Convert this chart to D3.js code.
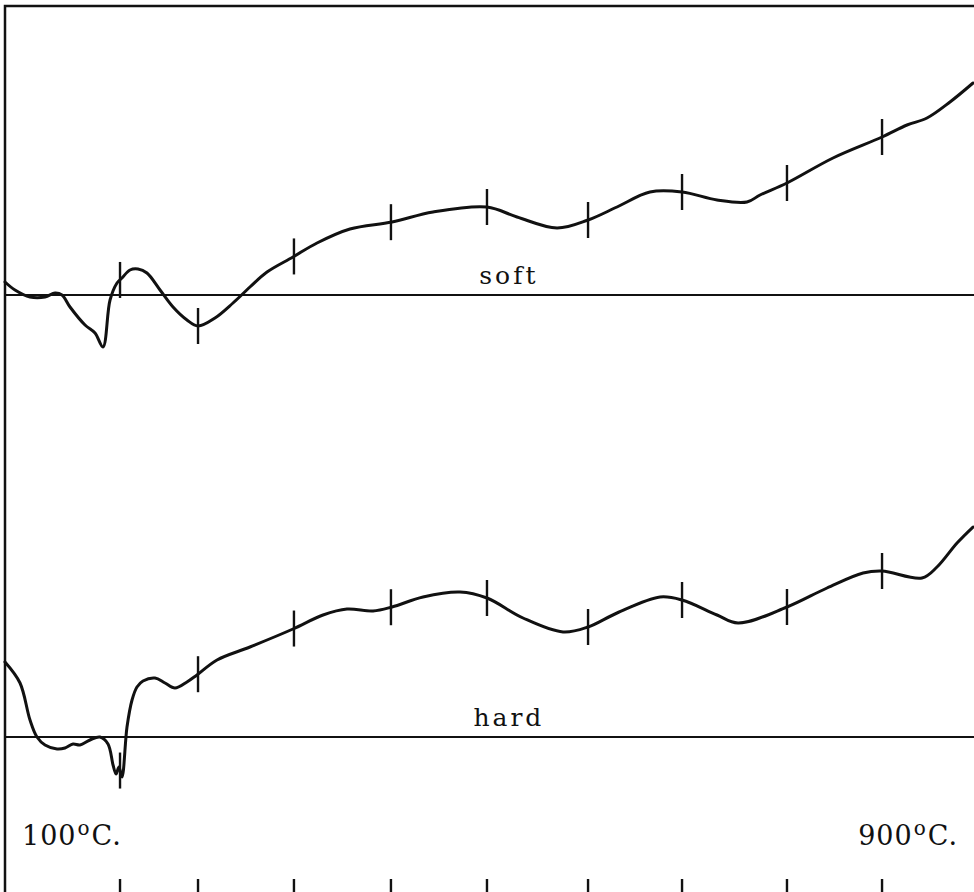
<!DOCTYPE html>
<html lang="en">
<head>
<meta charset="UTF-8">
<title>DTA soft / hard</title>
<script src="https://d3js.org/d3.v7.min.js"></script>
<style>
  body { margin: 0; background: #fff; }
  svg { display: block; }
  .curve { fill: none; stroke: #111; stroke-width: 3; stroke-linejoin: round; stroke-linecap: round; }
  .base { stroke: #111; stroke-width: 2; }
  .mark { stroke: #111; stroke-width: 2.4; }
  .frame { fill: none; stroke: #111; stroke-width: 2.5; }
  text { font-family: "DejaVu Serif", "Liberation Serif", serif; fill: #111; }
</style>
</head>
<body>
<div id="chart"></div>
<script>
// chart position (recorder units, 0..100 across the paper) and deflection (units above each baseline)
var softX = [0, 1.03, 2.58, 4.13, 5.16, 5.88, 6.71, 8.26, 9.29, 10.11, 10.84, 11.56, 12.07, 12.9, 13.73, 14.65, 16.0, 17.34, 18.78, 19.92, 21.67, 23.53, 25.28, 27.04, 29.72, 32.2, 35.6, 39.94, 44.17, 49.74, 52.84, 56.97, 60.17, 63.16, 66.56, 69.87, 73.48, 76.57, 77.92, 80.7, 85.45, 90.51, 93.09, 95.15, 97.52, 99.9];
var softY = [1.3, 0.5, -0.2, -0.2, 0.2, 0.0, -1.2, -3.0, -3.8, -5.2, -0.5, 1.2, 1.7, 2.5, 2.6, 2.2, 0.5, -1.2, -2.5, -3.1, -2.3, -0.8, 0.8, 2.3, 3.8, 5.2, 6.6, 7.3, 8.3, 8.8, 7.8, 6.7, 7.5, 8.8, 10.3, 10.3, 9.5, 9.3, 10.0, 11.2, 13.7, 15.8, 17.0, 17.7, 19.3, 21.2];

var hardX = [0, 1.55, 2.58, 3.3, 4.13, 5.37, 6.19, 7.02, 7.74, 8.77, 9.8, 10.63, 11.15, 11.46, 11.76, 12.07, 12.59, 13.11, 13.62, 14.24, 15.48, 16.51, 17.54, 18.78, 19.81, 21.88, 25.28, 29.72, 32.82, 35.29, 37.98, 39.94, 43.14, 46.96, 49.74, 53.46, 57.59, 60.17, 63.16, 67.6, 69.87, 73.48, 75.65, 80.7, 84.83, 88.55, 90.51, 94.63, 96.18, 98.25, 99.9];
var hardY = [7.5, 5.4, 1.7, 0, -0.8, -1.2, -1.1, -0.7, -0.8, -0.3, 0, -0.7, -2.8, -3.7, -3.0, -4.0, 1.0, 3.7, 5.0, 5.6, 5.9, 5.4, 4.9, 5.5, 6.2, 7.7, 9.0, 10.8, 12.2, 12.8, 12.6, 13.0, 14.0, 14.5, 13.9, 11.9, 10.5, 11.0, 12.4, 14.0, 13.7, 12.2, 11.4, 13.0, 14.9, 16.4, 16.6, 15.9, 17.0, 19.4, 21.0];

// temperature marks, 100 to 900 C
var temps = [100, 200, 300, 400, 500, 600, 700, 800, 900];
var tempX = [11.87, 19.92, 29.82, 39.83, 49.74, 60.17, 69.87, 80.7, 90.51];

var width = 974, height = 892;

var svg = d3.select("#chart").append("svg")
    .attr("width", width)
    .attr("height", height);

var x = d3.scaleLinear().domain([0, 100]).range([5, 974]);
var ySoft = d3.scaleLinear().domain([-10, 30]).range([395, -5]);
var yHard = d3.scaleLinear().domain([-10, 30]).range([837, 437]);

// frame (top and left edges)
svg.append("path")
    .attr("class", "frame")
    .attr("d", "M" + x(0) + "," + height + "V" + 6 + "H" + width);

var line = function (ys) {
    return d3.line()
        .x(function (d) { return x(d[0]); })
        .y(function (d) { return ys(d[1]); })
        .curve(d3.curveCatmullRom.alpha(0.5));
};

var interp = function (xs, vs, t) {
    for (var i = 1; i < xs.length; i++) {
        if (t <= xs[i]) {
            var f = (t - xs[i - 1]) / (xs[i] - xs[i - 1]);
            return vs[i - 1] + f * (vs[i] - vs[i - 1]);
        }
    }
    return vs[vs.length - 1];
};

var drawSeries = function (xs, vs, ys, label) {
    var g = svg.append("g");

    // baseline
    g.append("line").attr("class", "base")
        .attr("x1", x(0)).attr("x2", x(100))
        .attr("y1", ys(0)).attr("y2", ys(0));

    g.append("path")
        .datum(xs.map(function (d, i) { return [d, vs[i]]; }))
        .attr("class", "curve")
        .attr("d", line(ys));

    g.selectAll(".mark")
        .data(tempX)
        .enter().append("line")
        .attr("class", "mark")
        .attr("x1", function (d) { return x(d); })
        .attr("x2", function (d) { return x(d); })
        .attr("y1", function (d) { return ys(interp(xs, vs, d)) - 18; })
        .attr("y2", function (d) { return ys(interp(xs, vs, d)) + 18; });

    g.append("text")
        .attr("x", x(52))
        .attr("y", ys(0) - 11)
        .attr("text-anchor", "middle")
        .attr("font-size", 25)
        .attr("letter-spacing", 3)
        .text(label);
};

drawSeries(softX, softY, ySoft, "soft");
drawSeries(hardX, hardY, yHard, "hard");

// temperature axis along the bottom
svg.append("g").selectAll("line")
    .data(tempX)
    .enter().append("line")
    .attr("class", "mark")
    .attr("x1", function (d) { return x(d); })
    .attr("x2", function (d) { return x(d); })
    .attr("y1", height - 13)
    .attr("y2", height);

var tempLabel = function (t, xpos, anchor) {
    var txt = svg.append("text")
        .attr("x", xpos)
        .attr("y", 845)
        .attr("text-anchor", anchor)
        .attr("font-size", 27)
        .attr("letter-spacing", 1);
    txt.append("tspan").text(t);
    txt.append("tspan").attr("font-size", 20).attr("dx", 1).attr("dy", -10).text("o");
    txt.append("tspan").attr("dx", 1).attr("dy", 10).text("C.");
};

tempLabel(temps[0], 22, "start");
tempLabel(temps[temps.length - 1], 958, "end");
</script>
</body>
</html>
